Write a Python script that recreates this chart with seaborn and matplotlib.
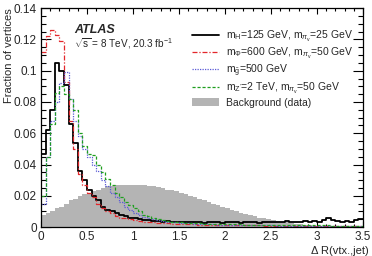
import numpy as np
import pandas as pd
import seaborn as sns
import matplotlib.pyplot as plt
from matplotlib.lines import Line2D
from matplotlib.patches import Patch
from matplotlib.ticker import MultipleLocator

# bins of 0.05 from 0 to 3.5
edges = [round(0.05 * i, 3) for i in range(71)]
centers = [e + 0.025 for e in edges[:-1]]

# mH=125 GeV, m_pi=25 GeV
sig_h125 = [0.047, 0.062, 0.075, 0.105, 0.100, 0.091, 0.066, 0.054, 0.036, 0.030,
            0.024, 0.020, 0.017, 0.013, 0.011, 0.010, 0.009, 0.0077, 0.007, 0.006,
            0.0055, 0.005, 0.0045, 0.0045, 0.004, 0.004, 0.0035, 0.004, 0.0035, 0.003,
            0.0035, 0.003, 0.003, 0.0035, 0.003, 0.0025, 0.003, 0.0035, 0.003, 0.0025,
            0.003, 0.0035, 0.003, 0.0025, 0.003, 0.0035, 0.003, 0.0025, 0.003, 0.0035,
            0.003, 0.0035, 0.003, 0.004, 0.0035, 0.003, 0.0035, 0.004, 0.0035, 0.004,
            0.0035, 0.0045, 0.0055, 0.0045, 0.004, 0.0035, 0.004, 0.003, 0.0045, 0.005]

# mPhi=600 GeV, m_pi=50 GeV
sig_phi600 = [0.112, 0.122, 0.126, 0.123, 0.119, 0.093, 0.068, 0.050, 0.034, 0.027,
              0.022, 0.019, 0.015, 0.012, 0.010, 0.009, 0.007, 0.006, 0.0055, 0.005,
              0.0045, 0.004, 0.0035, 0.0032, 0.003, 0.0028, 0.0026, 0.0024, 0.0022, 0.002,
              0.002, 0.0018, 0.0018, 0.0017, 0.0016, 0.0016, 0.0015, 0.0015, 0.0014, 0.0014,
              0.0013, 0.0013, 0.0012, 0.0012, 0.0012, 0.0011, 0.0011, 0.0011, 0.001, 0.001,
              0.001, 0.001, 0.001, 0.0009, 0.0009, 0.0009, 0.0009, 0.0009, 0.0008, 0.0008,
              0.0008, 0.0008, 0.0008, 0.0008, 0.0008, 0.0008, 0.0008, 0.0008, 0.0008, 0.0008]

# gluino 500 GeV
sig_gluino = [0.015, 0.045, 0.068, 0.080, 0.092, 0.099, 0.082, 0.068, 0.058, 0.050,
              0.045, 0.040, 0.036, 0.030, 0.026, 0.022, 0.019, 0.016, 0.013, 0.011,
              0.009, 0.0075, 0.0065, 0.0055, 0.005, 0.0045, 0.004, 0.0035, 0.003, 0.003,
              0.0028, 0.0026, 0.0024, 0.0022, 0.002, 0.002, 0.0018, 0.0017, 0.0016, 0.0015,
              0.0015, 0.0014, 0.0014, 0.0013, 0.0013, 0.0012, 0.0012, 0.0012, 0.0011, 0.0011,
              0.0011, 0.001, 0.001, 0.001, 0.001, 0.001, 0.001, 0.001, 0.001, 0.001,
              0.001, 0.001, 0.001, 0.001, 0.001, 0.001, 0.001, 0.001, 0.001, 0.001]

# Z'=2 TeV, m_pi=50 GeV
sig_zprime = [0.020, 0.045, 0.066, 0.086, 0.090, 0.085, 0.082, 0.075, 0.060, 0.052,
              0.047, 0.046, 0.040, 0.035, 0.031, 0.027, 0.022, 0.019, 0.016, 0.014,
              0.012, 0.010, 0.008, 0.007, 0.006, 0.005, 0.0045, 0.004, 0.0035, 0.0032,
              0.003, 0.0028, 0.0026, 0.0024, 0.0023, 0.0022, 0.0021, 0.002, 0.002, 0.0019,
              0.0018, 0.0018, 0.0017, 0.0017, 0.0016, 0.0016, 0.0015, 0.0015, 0.0015, 0.0014,
              0.0014, 0.0014, 0.0013, 0.0013, 0.0013, 0.0012, 0.0012, 0.0012, 0.0012, 0.0011,
              0.0011, 0.0011, 0.0011, 0.001, 0.001, 0.001, 0.001, 0.001, 0.001, 0.001]

# background (data)
bkg = [0.008, 0.009, 0.010, 0.012, 0.013, 0.015, 0.017, 0.018, 0.020, 0.021,
       0.022, 0.023, 0.024, 0.025, 0.026, 0.026, 0.027, 0.027, 0.027, 0.027,
       0.027, 0.027, 0.027, 0.0265, 0.026, 0.0255, 0.025, 0.024, 0.0235, 0.023,
       0.022, 0.021, 0.020, 0.019, 0.018, 0.017, 0.016, 0.015, 0.014, 0.013,
       0.012, 0.011, 0.010, 0.009, 0.0085, 0.0075, 0.007, 0.006, 0.0055, 0.005,
       0.0045, 0.004, 0.0035, 0.003, 0.0025, 0.002, 0.0017, 0.0014, 0.0012, 0.001,
       0.0008, 0.0007, 0.0006, 0.0005, 0.0004, 0.0004, 0.0003, 0.0003, 0.0002, 0.0002]

labels = [r"m$_{\mathrm{H}}$=125 GeV, m$_{\pi_{\mathrm{v}}}$=25 GeV",
          r"m$_{\Phi}$=600 GeV, m$_{\pi_{\mathrm{v}}}$=50 GeV",
          r"m$_{\tilde{\mathrm{g}}}$=500 GeV",
          r"m$_{\mathrm{Z'}}$=2 TeV, m$_{\pi_{\mathrm{v}}}$=50 GeV",
          "Background (data)"]

df = pd.DataFrame({'dr': centers, 'bkg': bkg, 'h125': sig_h125,
                   'phi600': sig_phi600, 'gluino': sig_gluino, 'zprime': sig_zprime})

sns.set_style("ticks")
plt.rcParams['font.family'] = ['Liberation Sans', 'DejaVu Sans']
plt.rcParams['mathtext.fontset'] = 'custom'
plt.rcParams['mathtext.rm'] = 'Liberation Sans'
plt.rcParams['mathtext.it'] = 'Liberation Sans:italic'

fig = plt.figure(figsize=(3.72, 2.56), dpi=100)
ax = fig.add_axes([0.110, 0.113, 0.866, 0.855])

gray = '#b4b4b4'
sns.histplot(data=df, x='dr', weights='bkg', bins=edges, element='step', fill=True,
             color=gray, alpha=1, linewidth=0, ax=ax)

styles = [('h125', 'black', '-', 1.3),
          ('phi600', '#e3262a', (0, (4, 1.5, 1, 1.5)), 0.9),
          ('gluino', '#5b5bd6', (0, (1, 1)), 0.9),
          ('zprime', '#1f9f1f', (0, (2.5, 1.5)), 0.9)]
handles = []
for col_name, col, ls, lw in styles:
    sns.histplot(data=df, x='dr', weights=col_name, bins=edges, element='step', fill=False,
                 color=col, linestyle=ls, linewidth=lw, ax=ax)
    handles.append(Line2D([], [], color=col, linestyle=ls, linewidth=lw))
handles.append(Patch(facecolor=gray, edgecolor='none'))

ax.set_xlim(0, 3.5)
ax.set_ylim(0, 0.14)
ax.set_xticks(np.arange(0, 3.51, 0.5))
ax.set_xticklabels(['0', '0.5', '1', '1.5', '2', '2.5', '3', '3.5'])
ax.xaxis.set_minor_locator(MultipleLocator(0.1))
ax.set_yticks(np.arange(0, 0.141, 0.02))
ax.set_yticklabels(['0', '0.02', '0.04', '0.06', '0.08', '0.1', '0.12', '0.14'])
ax.yaxis.set_minor_locator(MultipleLocator(0.005))
ax.tick_params(axis='both', which='both', direction='in', top=True, right=True,
               labelsize=8.5, width=0.8, color='black')
ax.tick_params(axis='y', which='major', length=7, pad=3)
ax.tick_params(axis='y', which='minor', length=3.5)
ax.tick_params(axis='x', which='major', length=4.5, pad=3)
ax.tick_params(axis='x', which='minor', length=2.2)
for s in ax.spines.values():
    s.set_linewidth(0.9)
    s.set_color('black')

ax.set_ylabel("Fraction of vertices", fontsize=8, loc='top')
ax.yaxis.set_label_coords(-0.084, 1.0)
ax.set_xlabel("Δ R(vtx.,jet)", fontsize=8, loc='right')
ax.xaxis.set_label_coords(1.019, -0.085)

ax.text(0.1025, 0.90, "ATLAS", transform=ax.transAxes, fontsize=9,
        fontweight='bold', fontstyle='italic', va='center')
ax.text(0.1025, 0.84, r"$\sqrt{\mathrm{s}}$ = 8 TeV, 20.3 fb$^{-1}$",
        transform=ax.transAxes, fontsize=7.2, va='center')

ax.legend(handles, labels, loc='upper left', bbox_to_anchor=(0.4565, 0.925),
          frameon=False, fontsize=7.5, handlelength=2.6, handletextpad=0.67,
          handleheight=0.8, labelspacing=0.18, borderaxespad=0)

fig.savefig("out.png", dpi=100)
